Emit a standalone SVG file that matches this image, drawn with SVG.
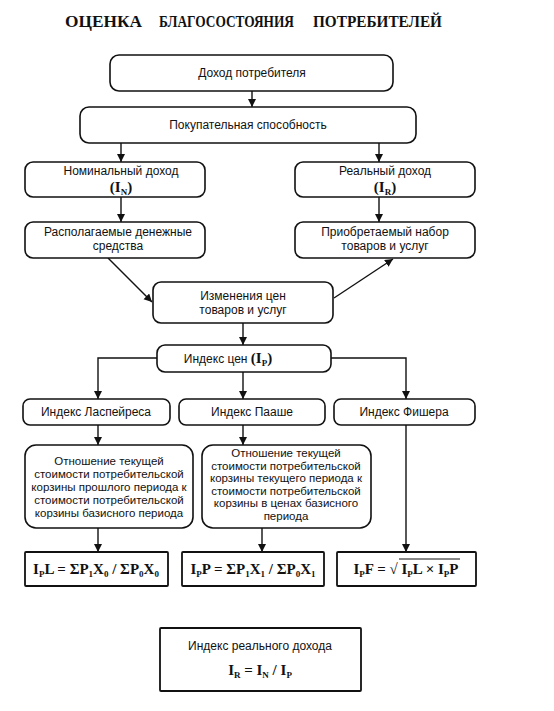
<svg xmlns="http://www.w3.org/2000/svg" width="554" height="711" viewBox="0 0 554 711">
<defs>
<marker id="ah" markerUnits="userSpaceOnUse" markerWidth="8" markerHeight="10" refX="8" refY="4" orient="auto">
<path d="M0,0 L8,4 L0,8 Z" fill="#111"/>
</marker>
<style>
.box{fill:#fff;stroke:#111;stroke-width:1.6}
.fbox{fill:#fff;stroke:#111;stroke-width:1.8}
.t{font-family:"Liberation Sans",Arial,sans-serif;font-size:12px;fill:#111;text-anchor:middle}
.d{font-family:"Liberation Sans",Arial,sans-serif;font-size:11.5px;fill:#111;text-anchor:middle}
.f{font-family:"Liberation Serif","Times New Roman",serif;font-weight:bold;font-size:15px;fill:#111;text-anchor:middle}
.s{font-size:9px}
.c{fill:none;stroke:#111;stroke-width:1.4}
.ti{font-family:"Liberation Serif","Times New Roman",serif;font-weight:bold;font-size:16.5px;fill:#111}
</style>
</defs>
<rect width="554" height="711" fill="#fff"/>
<g id="title">
<text class="ti" x="65" y="27" textLength="77" lengthAdjust="spacingAndGlyphs">ОЦЕНКА</text>
<text class="ti" x="159" y="27" textLength="135" lengthAdjust="spacingAndGlyphs">БЛАГОСОСТОЯНИЯ</text>
<text class="ti" x="313" y="27" textLength="129" lengthAdjust="spacingAndGlyphs">ПОТРЕБИТЕЛЕЙ</text>
</g>

<g id="connectors">
<line class="c" x1="252" y1="91" x2="252" y2="107" marker-end="url(#ah)"/>
<line class="c" x1="121" y1="143" x2="121" y2="162" marker-end="url(#ah)"/>
<line class="c" x1="379" y1="143" x2="379" y2="162" marker-end="url(#ah)"/>
<line class="c" x1="121" y1="197" x2="121" y2="222" marker-end="url(#ah)"/>
<line class="c" x1="379" y1="197" x2="379" y2="222" marker-end="url(#ah)"/>
<line class="c" x1="108" y1="258" x2="152" y2="302" marker-end="url(#ah)"/>
<line class="c" x1="334" y1="298" x2="393" y2="259" marker-end="url(#ah)"/>
<line class="c" x1="243" y1="323" x2="243" y2="345" marker-end="url(#ah)"/>
<polyline class="c" points="157,358 98,358 98,399" marker-end="url(#ah)"/>
<polyline class="c" points="331,358 406,358 406,399" marker-end="url(#ah)"/>
<line class="c" x1="243" y1="372" x2="243" y2="399" marker-end="url(#ah)"/>
<line class="c" x1="98" y1="425" x2="98" y2="445" marker-end="url(#ah)"/>
<line class="c" x1="243" y1="425" x2="243" y2="445" marker-end="url(#ah)"/>
<line class="c" x1="98" y1="528" x2="98" y2="552" marker-end="url(#ah)"/>
<line class="c" x1="262" y1="528" x2="262" y2="552" marker-end="url(#ah)"/>
<line class="c" x1="406" y1="425" x2="406" y2="552" marker-end="url(#ah)"/>
</g>

<g id="n-income">
<rect class="box" x="110" y="55" width="283" height="36" rx="9"/>
<text class="t" x="252" y="77">Доход потребителя</text>
</g>
<g id="n-purchasing">
<rect class="box" x="80" y="107" width="336" height="36" rx="9"/>
<text class="t" x="248" y="129">Покупательная способность</text>
</g>
<g id="n-nominal">
<rect class="box" x="25" y="162" width="180" height="35" rx="8"/>
<text class="t" x="121" y="175">Номинальный доход</text>
<text class="f" x="121" y="192">(I<tspan class="s" dy="3">N</tspan><tspan dy="-3">)</tspan></text>
</g>
<g id="n-real">
<rect class="box" x="295" y="162" width="180" height="35" rx="8"/>
<text class="t" x="385" y="175">Реальный доход</text>
<text class="f" x="385" y="192">(I<tspan class="s" dy="3">R</tspan><tspan dy="-3">)</tspan></text>
</g>
<g id="n-money">
<rect class="box" x="25" y="222" width="180" height="36" rx="8"/>
<text class="t" x="118" y="236">Располагаемые денежные</text>
<text class="t" x="118" y="250">средства</text>
</g>
<g id="n-basket">
<rect class="box" x="295" y="222" width="180" height="36" rx="8"/>
<text class="t" x="385" y="236">Приобретаемый набор</text>
<text class="t" x="385" y="250">товаров и услуг</text>
</g>
<g id="n-change">
<rect class="box" x="153" y="282" width="180" height="41" rx="8"/>
<text class="t" x="243" y="300">Изменения цен</text>
<text class="t" x="243" y="314">товаров и услуг</text>
</g>
<g id="n-priceindex">
<rect class="box" x="157" y="345" width="174" height="27" rx="8"/>
<text class="t" x="228" y="363">Индекс цен <tspan class="f" style="text-anchor:start">(I<tspan class="s" dy="3">P</tspan><tspan dy="-3">)</tspan></tspan></text>
</g>
<g id="n-laspeyres">
<rect class="box" x="23" y="399" width="147" height="26" rx="7"/>
<text class="t" x="96" y="416">Индекс Ласпейреса</text>
</g>
<g id="n-paasche">
<rect class="box" x="179" y="399" width="146" height="26" rx="7"/>
<text class="t" x="252" y="416">Индекс Пааше</text>
</g>
<g id="n-fisher">
<rect class="box" x="334" y="399" width="141" height="26" rx="7"/>
<text class="t" x="404" y="416">Индекс Фишера</text>
</g>
<g id="n-ldesc">
<rect class="box" x="25" y="445" width="168" height="83" rx="11"/>
<text class="d" x="109" y="465">Отношение текущей</text>
<text class="d" x="109" y="478">стоимости потребительской</text>
<text class="d" x="109" y="491">корзины прошлого периода к</text>
<text class="d" x="109" y="504">стоимости потребительской</text>
<text class="d" x="109" y="517">корзины базисного периода</text>
</g>
<g id="n-pdesc">
<rect class="box" x="202" y="445" width="169" height="83" rx="11"/>
<text class="d" x="286" y="457">Отношение текущей</text>
<text class="d" x="286" y="469.5">стоимости потребительской</text>
<text class="d" x="286" y="482">корзины текущего периода к</text>
<text class="d" x="286" y="494.5">стоимости потребительской</text>
<text class="d" x="286" y="507">корзины в ценах базисного</text>
<text class="d" x="286" y="519.5">периода</text>
</g>
<g id="n-lformula">
<rect class="fbox" x="25" y="552" width="143" height="34" rx="1"/>
<text class="f" x="96" y="574">I<tspan class="s" dy="3">P</tspan><tspan dy="-3">L = ΣP</tspan><tspan class="s" dy="3">1</tspan><tspan dy="-3">X</tspan><tspan class="s" dy="3">0</tspan><tspan dy="-3"> / ΣP</tspan><tspan class="s" dy="3">0</tspan><tspan dy="-3">X</tspan><tspan class="s" dy="3">0</tspan></text>
</g>
<g id="n-pformula">
<rect class="fbox" x="182" y="552" width="142" height="34" rx="1"/>
<text class="f" x="253" y="574">I<tspan class="s" dy="3">P</tspan><tspan dy="-3">P = ΣP</tspan><tspan class="s" dy="3">1</tspan><tspan dy="-3">X</tspan><tspan class="s" dy="3">1</tspan><tspan dy="-3"> / ΣP</tspan><tspan class="s" dy="3">0</tspan><tspan dy="-3">X</tspan><tspan class="s" dy="3">1</tspan></text>
</g>
<g id="n-fformula">
<rect class="fbox" x="337" y="552" width="139" height="34" rx="1"/>
<text class="f" x="406" y="574">I<tspan class="s" dy="3">P</tspan><tspan dy="-3">F = √ I</tspan><tspan class="s" dy="3">P</tspan><tspan dy="-3">L × I</tspan><tspan class="s" dy="3">P</tspan><tspan dy="-3">P</tspan></text>
<line x1="399" y1="559" x2="460" y2="559" stroke="#111" stroke-width="1"/>
</g>
<g id="n-realindex">
<rect class="fbox" x="160" y="628" width="201" height="63" rx="1"/>
<text class="t" x="260" y="650">Индекс реального дохода</text>
<text class="f" x="260" y="675">I<tspan class="s" dy="3">R</tspan><tspan dy="-3"> = I</tspan><tspan class="s" dy="3">N</tspan><tspan dy="-3"> / I</tspan><tspan class="s" dy="3">P</tspan></text>
</g>
</svg>
